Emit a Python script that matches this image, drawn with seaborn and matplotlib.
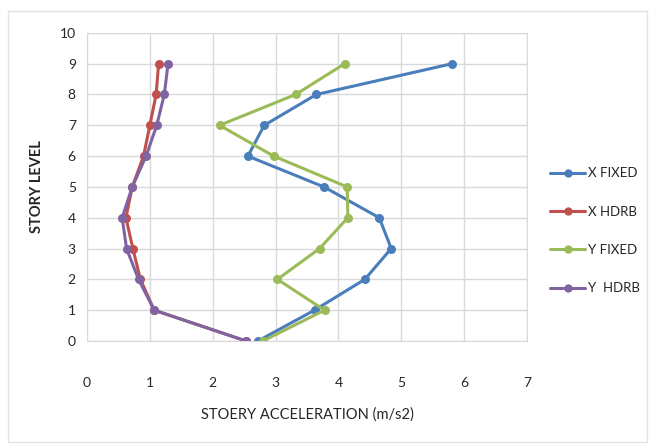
import numpy as np
import pandas as pd
import matplotlib.pyplot as plt
import seaborn as sns

# story levels and peak accelerations
levels = [0, 1, 2, 3, 4, 5, 6, 7, 8, 9]
x_fixed = [2.72, 3.62, 4.42, 4.84, 4.65, 3.77, 2.56, 2.82, 3.65, 5.81]
x_hdrb = [2.53, 1.07, 0.85, 0.73, 0.62, 0.72, 0.90, 1.00, 1.10, 1.14]
y_fixed = [2.80, 3.78, 3.03, 3.70, 4.15, 4.14, 2.97, 2.11, 3.32, 4.10]
y_hdrb = [2.53, 1.07, 0.82, 0.63, 0.56, 0.72, 0.94, 1.11, 1.23, 1.29]

series_names = ["X FIXED", "X HDRB", "Y FIXED", "Y  HDRB"]
colors = ["#4A7EBB", "#C0504D", "#9BBB59", "#8064A2"]

frames = []
for name, vals in zip(series_names, [x_fixed, x_hdrb, y_fixed, y_hdrb]):
    frames.append(pd.DataFrame({"acc": vals, "level": levels, "series": name}))
df = pd.concat(frames, ignore_index=True)

sns.set_style("white")
plt.rcParams['font.family'] = ['Lato', 'DejaVu Sans']

fig = plt.figure(figsize=(6.49, 4.44), dpi=100)
ax = fig.add_axes([0.134, 0.232, 0.678, 0.694])

sns.lineplot(data=df, x="acc", y="level", hue="series", palette=colors,
             sort=False, estimator=None, marker="o", markersize=6.5,
             markeredgewidth=0, linewidth=2.2, ax=ax, legend=False)

ax.set_xlim(0, 7)
ax.set_ylim(0, 10)
ax.set_xticks(range(0, 8))
ax.set_yticks(range(0, 11))
ax.grid(True, color="#D9D9D9", linewidth=1)
ax.set_axisbelow(True)
for sp in ax.spines.values():
    sp.set_color("#D9D9D9")
ax.tick_params(axis="x", length=0, pad=26, labelsize=10)
ax.tick_params(axis="y", length=0, pad=8, labelsize=10)
ax.set_xlabel("STOERY ACCELERATION (m/s2)", fontsize=10.5, labelpad=13)
ax.set_ylabel("STORY LEVEL", fontsize=10.5, fontweight="bold", labelpad=11)

handles = [plt.Line2D([], [], color=c, marker="o", markersize=6, linewidth=2.2,
                      markeredgewidth=0) for c in colors]
ax.legend(handles, series_names, loc="center left", bbox_to_anchor=(0.848, 0.48),
          bbox_transform=fig.transFigure, borderaxespad=0, borderpad=0,
          frameon=False, fontsize=9.5, labelspacing=2.0, handlelength=2.6,
          handletextpad=0.25)

# faint chart-area border
fig.patches.append(plt.Rectangle((0.012, 0.005), 0.985, 0.97, transform=fig.transFigure,
                                 fill=False, edgecolor="#E3E3E3", linewidth=1))

fig.savefig("out.png", dpi=100)
